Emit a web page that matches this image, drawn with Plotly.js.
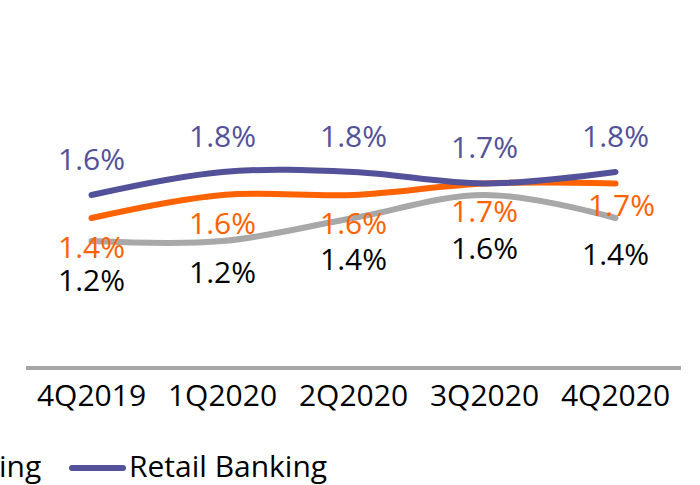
<!DOCTYPE html>
<html><head><meta charset="utf-8">
<script src="https://cdn.plot.ly/plotly-3.0.1.min.js"></script>
<style>
html,body{margin:0;padding:0;background:#fff;}
#chart{width:700px;height:485px;}
.scatterlayer path.js-line{stroke-linecap:round;}
.shapelayer path{stroke-linecap:round;}
</style></head><body><div id="chart"></div>
<script>
// ---- data ----
const quarters = ['4Q2019', '1Q2020', '2Q2020', '3Q2020', '4Q2020'];
const ingGroup = [1.2, 1.2, 1.4, 1.6, 1.4];          // grey
const wholesaleBanking = [1.4, 1.6, 1.6, 1.7, 1.7];  // orange
const retailBanking = [1.6, 1.8, 1.8, 1.7, 1.8];     // purple
const seriesNames = ['ING Group', 'Wholesale Banking', 'Retail Banking'];

// ---- styling ----
const PURPLE = '#525199', ORANGE = '#FF6200', GREY = '#A8A8A8';
const FONT = 'Open Sans, Noto Sans, sans-serif';
// label offsets in px (positive = above the point)
const shiftGrey = [-38, -30, -40, -52, -35];
const shiftOrange = [-28, -27, -27, -27, -21];
const shiftPurple = [37, 37, 37, 37, 37];
const xshiftOrange = [0, 0, 0, 0, 6];

// plot area in px
const L = 26, R = 681, T = 40, B = 366;
const pxX = x => (x - L) / (R - L);
const pxY = y => (B - y) / (B - T);
const yPerUnit = 115;
const y0 = 1.6 - (B - 195) / yPerUnit;
const y1 = y0 + (B - T) / yPerUnit;

function lineTrace(name, vals, color) {
  return {
    type: 'scatter', mode: 'lines', name: name, x: quarters, y: vals,
    line: {color: color, width: 6, shape: 'spline', smoothing: 1},
    hoverinfo: 'skip', showlegend: false, cliponaxis: false
  };
}
const data = [
  lineTrace(seriesNames[0], ingGroup, GREY),
  lineTrace(seriesNames[1], wholesaleBanking, ORANGE),
  lineTrace(seriesNames[2], retailBanking, PURPLE)
];

const annotations = [];
function addLabels(vals, color, shifts, xshifts) {
  vals.forEach((v, i) => annotations.push({
    x: quarters[i], y: v, xref: 'x', yref: 'y', text: v.toFixed(1) + '%',
    showarrow: false, xanchor: 'center', yanchor: 'middle',
    yshift: shifts[i], xshift: xshifts ? xshifts[i] : 0,
    font: {family: FONT, size: 30, color: color}
  }));
}
addLabels(ingGroup, '#000000', shiftGrey);
addLabels(wholesaleBanking, ORANGE, shiftOrange, xshiftOrange);
addLabels(retailBanking, PURPLE, shiftPurple);

// legend (partly outside the canvas, like the reference)
annotations.push({
  xref: 'paper', yref: 'paper', x: pxX(43), y: pxY(465), xanchor: 'right', yanchor: 'middle',
  text: seriesNames[1], showarrow: false, font: {family: FONT, size: 30, color: '#000'}
});
annotations.push({
  xref: 'paper', yref: 'paper', x: pxX(127), y: pxY(465), xanchor: 'left', yanchor: 'middle',
  text: seriesNames[2], showarrow: false, font: {family: FONT, size: 30, color: '#000'}
});
const shapes = [{
  type: 'line', xref: 'paper', yref: 'paper', x0: pxX(72), x1: pxX(123), y0: pxY(468), y1: pxY(468),
  line: {color: PURPLE, width: 6}
}];

const layout = {
  width: 700, height: 485,
  margin: {l: L, r: 700 - R, t: T, b: 485 - B, autoexpand: false},
  paper_bgcolor: '#fff', plot_bgcolor: '#fff',
  showlegend: false,
  font: {family: FONT, size: 30, color: '#000'},
  xaxis: {
    type: 'category', range: [-0.5, 4.5], showline: true, linecolor: '#A6A6A6', linewidth: 4,
    showgrid: false, zeroline: false, ticks: '', tickfont: {family: FONT, size: 30, color: '#000'},
    fixedrange: true
  },
  yaxis: {range: [y0, y1], visible: false, fixedrange: true},
  annotations: annotations,
  shapes: shapes
};
Plotly.newPlot('chart', data, layout, {staticPlot: true, displayModeBar: false});
</script></body></html>
